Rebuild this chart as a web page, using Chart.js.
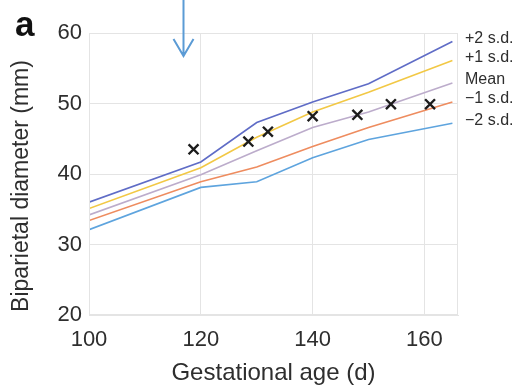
<!DOCTYPE html>
<html>
<head>
<meta charset="utf-8">
<script src="https://cdn.jsdelivr.net/npm/chart.js@4/dist/chart.umd.min.js"></script>
<style>
    html, body { margin: 0; padding: 0; background: #fff; }
    #wrap { width: 513px; height: 385px; }
</style>
</head>
<body>
<div id="wrap"><canvas id="chart"></canvas></div>
<script>
// reference curves (mm) at these gestational ages (days)
const days = [100, 120, 130, 140, 150, 165];
const plus2 = [36.0, 41.7, 47.3, 50.2, 52.8, 58.8];
const plus1 = [35.1, 40.9, 45.2, 48.8, 51.6, 56.1];
const mean = [34.2, 39.9, 43.3, 46.6, 48.8, 52.9];
const minus1 = [33.4, 38.9, 41.0, 43.9, 46.6, 50.2];
const minus2 = [32.1, 38.1, 38.9, 42.3, 44.9, 47.2];

// measured points (crosses)
const obsDays = [118.7, 128.5, 132, 140, 148, 154, 161];
const obsBpd = [43.5, 44.6, 46.0, 48.2, 48.4, 49.9, 49.9];

const curveLabels = ["+2 s.d.", "+1 s.d.", "Mean", "\u22121 s.d.", "\u22122 s.d."];
const curveColors = ["#5f6cc6", "#f2c845", "#bcaccb", "#ee8c5f", "#5ea4de"];
const xTicks = [100, 120, 140, 160];
const yTicks = [20, 30, 40, 50, 60];

const FONT = "'Liberation Sans', Arial, sans-serif";
const TEXT = "#2e2e2e";
const GRID = "#e4e4e4";

function toPoints(xs, ys) {
    return xs.map((x, i) => ({ x: x, y: ys[i] }));
}

const curves = [plus2, plus1, mean, minus1, minus2];

const datasets = [{
    label: "Measured",
    data: toPoints(obsDays, obsBpd),
    showLine: false,
    pointStyle: "crossRot",
    pointRadius: 7,
    pointBorderWidth: 2.4,
    borderColor: "#1c1c1c",
    backgroundColor: "#1c1c1c"
}];
curves.forEach((c, i) => {
    datasets.push({
        label: curveLabels[i],
        data: toPoints(days, c),
        borderColor: curveColors[i],
        borderWidth: 1.6,
        pointRadius: 0,
        tension: 0,
        fill: false
    });
});

const extras = {
    id: "extras",
    afterDraw(chart) {
        const ctx = chart.ctx;
        const area = chart.chartArea;
        const xs = chart.scales.x;
        const ys = chart.scales.y;
        ctx.save();

        // plot frame
        ctx.strokeStyle = GRID;
        ctx.lineWidth = 1;
        ctx.strokeRect(area.left + 0.5, area.top + 0.5, area.right - area.left - 1, area.bottom - area.top - 1);

        // labels at the line ends
        ctx.fillStyle = TEXT;
        ctx.font = "16px " + FONT;
        ctx.textAlign = "left";
        ctx.textBaseline = "middle";
        let prev = -Infinity;
        curves.forEach((c, i) => {
            let y = ys.getPixelForValue(c[c.length - 1]) - 3;
            if (y < prev + 19) y = prev + 19;
            prev = y;
            ctx.fillText(curveLabels[i], area.right + 7, y);
        });

        // y axis title
        ctx.save();
        ctx.translate(22, 186);
        ctx.rotate(-Math.PI / 2);
        ctx.font = "23px " + FONT;
        ctx.textAlign = "center";
        ctx.textBaseline = "middle";
        ctx.fillText("Biparietal diameter (mm)", 0, 0);
        ctx.restore();

        // panel letter
        ctx.fillStyle = "#111";
        ctx.font = "bold 35px " + FONT;
        ctx.textAlign = "left";
        ctx.textBaseline = "alphabetic";
        ctx.fillText("a", 15, 36);

        // blue arrow annotation
        const ax = Math.round(xs.getPixelForValue(116.8)) + 0.5;
        ctx.strokeStyle = "#5b9bd5";
        ctx.lineWidth = 2;
        ctx.beginPath();
        ctx.moveTo(ax, 0);
        ctx.lineTo(ax, 55);
        ctx.moveTo(ax - 10, 39);
        ctx.lineTo(ax, 56);
        ctx.lineTo(ax + 10, 39);
        ctx.stroke();

        ctx.restore();
    }
};

new Chart(document.getElementById("chart"), {
    type: "line",
    data: { datasets: datasets },
    options: {
        responsive: true,
        maintainAspectRatio: false,
        animation: false,
        layout: { padding: { left: 0, right: 55, top: 33, bottom: 0 } },
        scales: {
            x: {
                type: "linear",
                min: 100,
                max: 166,
                afterBuildTicks: axis => { axis.ticks = xTicks.map(v => ({ value: v })); },
                afterFit: axis => { axis.height = 70; },
                grid: { color: GRID, drawTicks: false },
                border: { color: GRID },
                ticks: {
                    padding: 12,
                    color: TEXT,
                    font: { family: FONT, size: 22 }
                },
                title: {
                    display: true,
                    text: "Gestational age (d)",
                    color: TEXT,
                    font: { family: FONT, size: 24, lineHeight: 1 },
                    padding: { top: 0, bottom: 0 }
                }
            },
            y: {
                min: 20,
                max: 60,
                afterBuildTicks: axis => { axis.ticks = yTicks.map(v => ({ value: v })); },
                afterFit: axis => { axis.width = 89; },
                grid: { color: GRID, drawTicks: false },
                border: { color: GRID },
                ticks: {
                    padding: 7,
                    color: TEXT,
                    font: { family: FONT, size: 22 }
                }
            }
        },
        plugins: {
            legend: { display: false },
            tooltip: { enabled: false }
        }
    },
    plugins: [extras]
});
</script>
</body>
</html>
